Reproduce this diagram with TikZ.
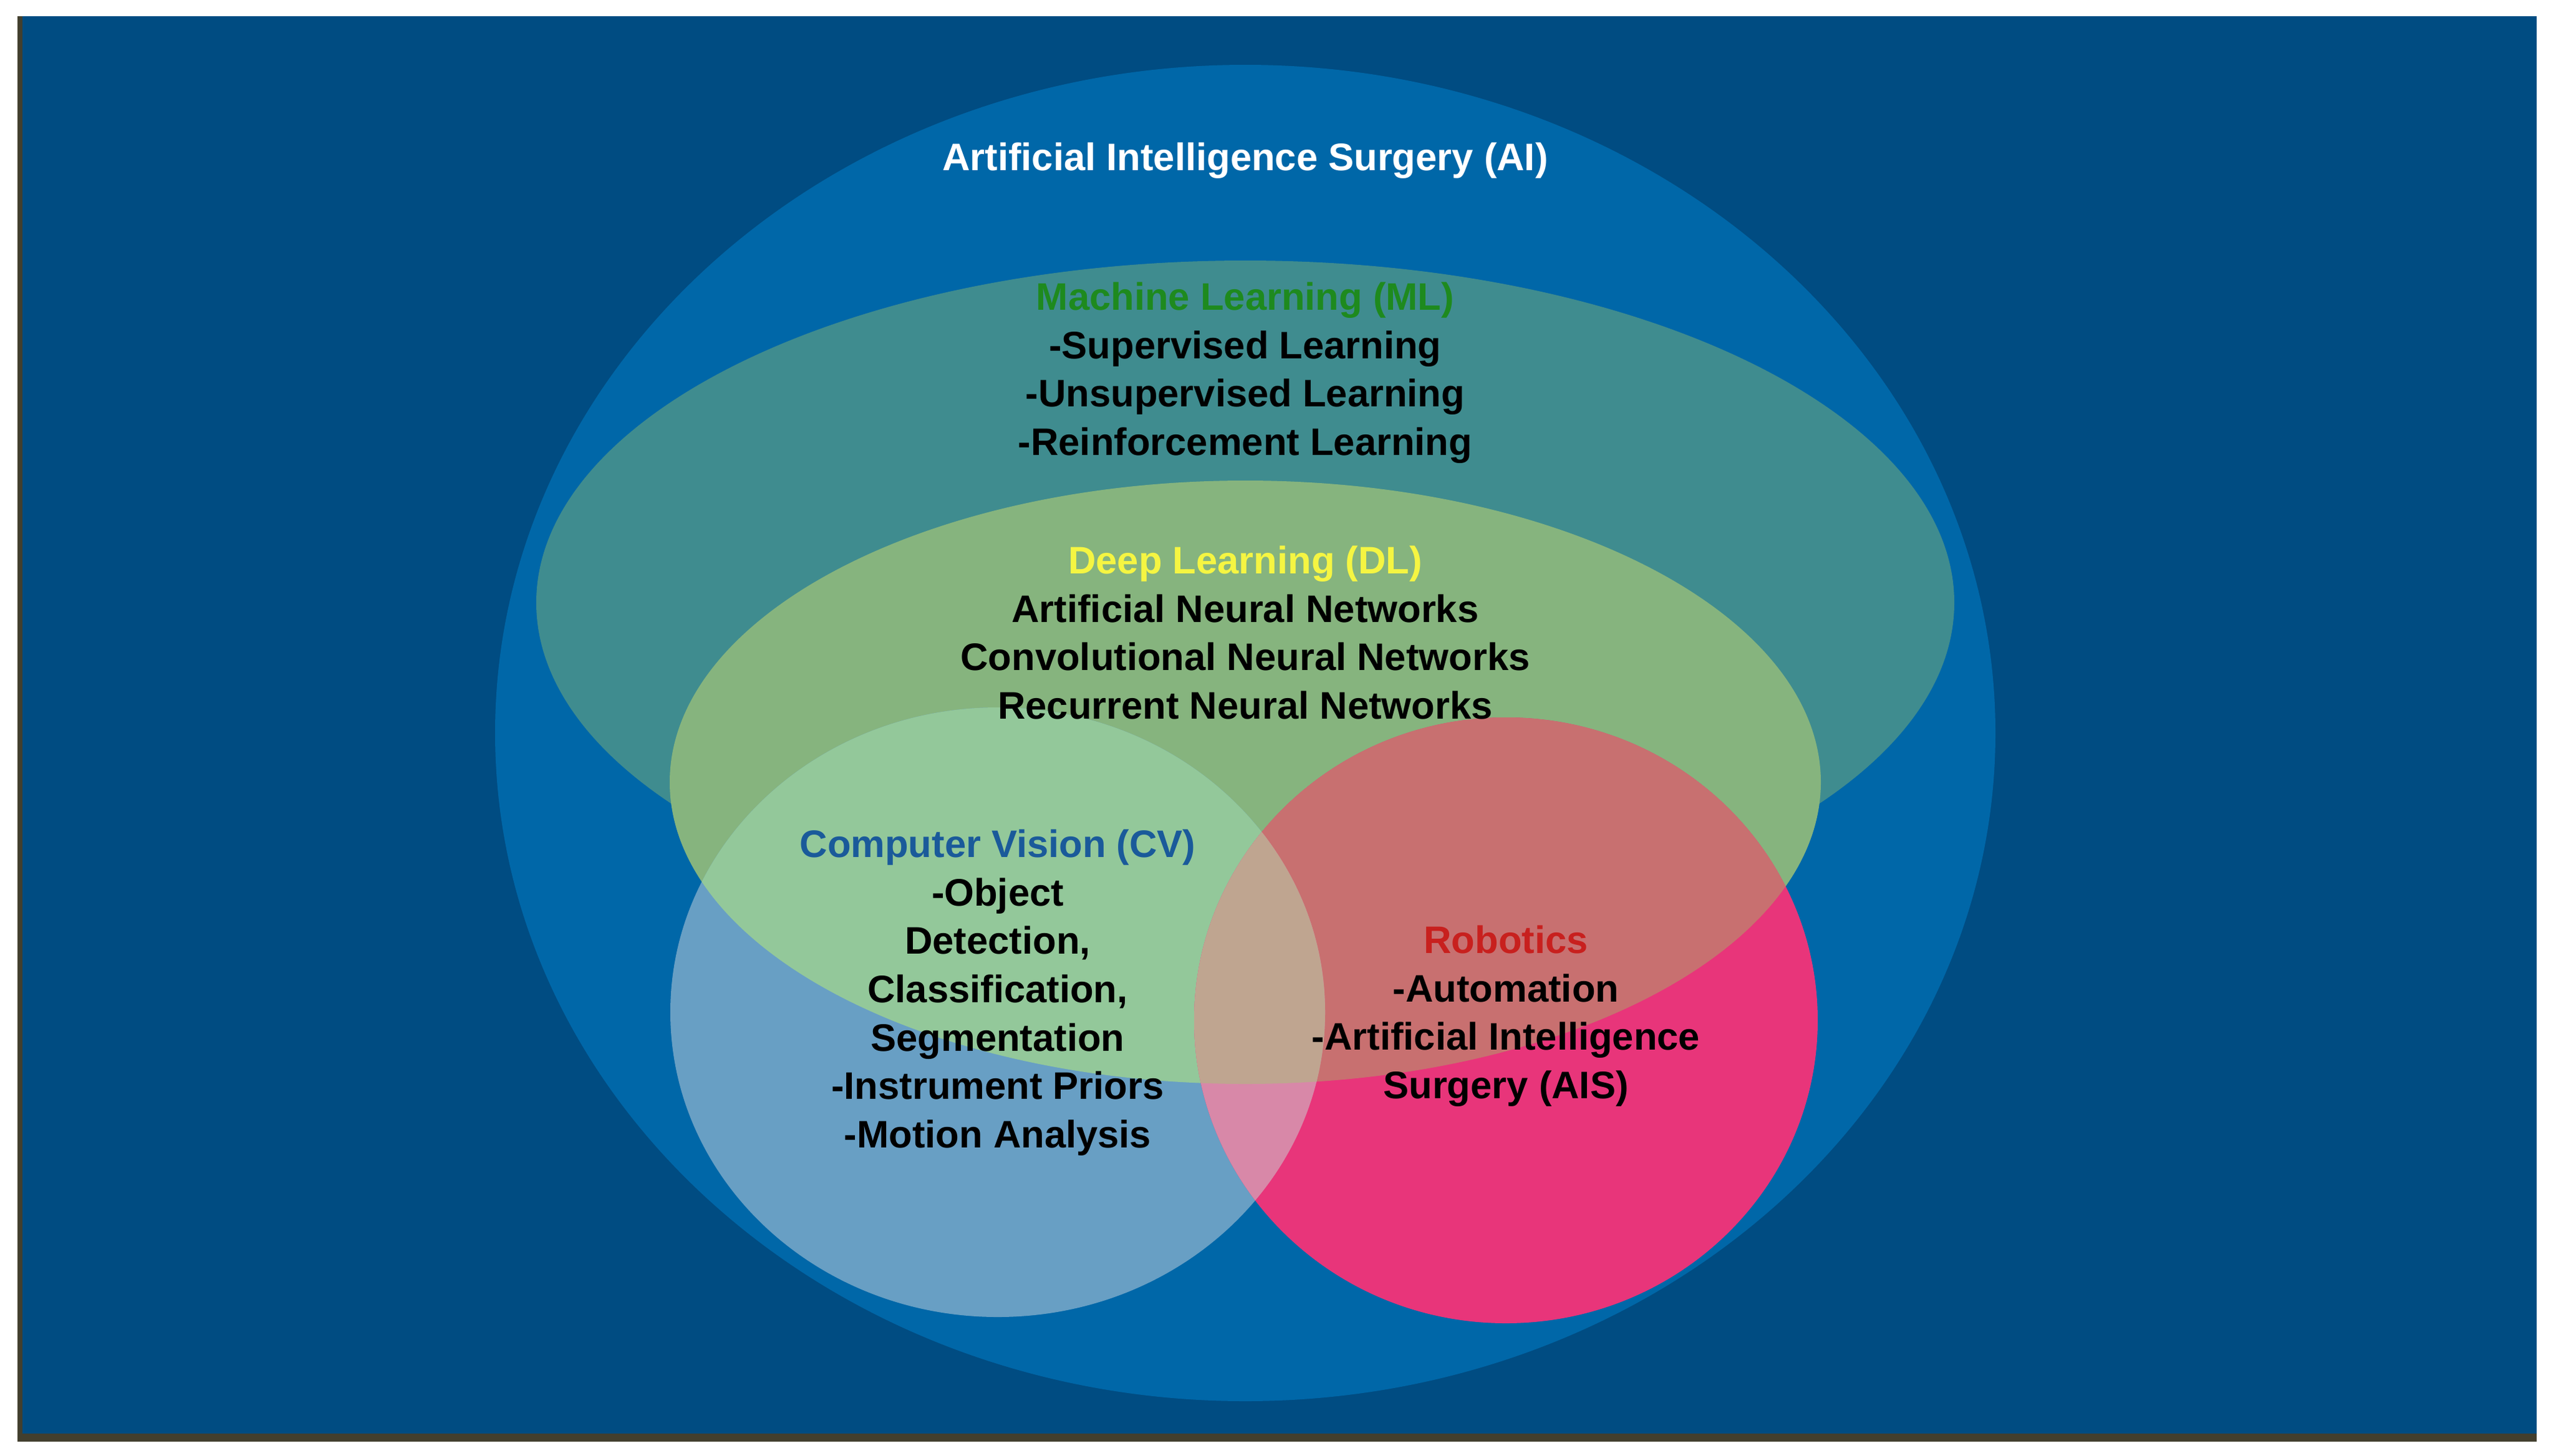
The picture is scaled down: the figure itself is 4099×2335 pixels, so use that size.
\documentclass[tikz,border=0pt]{standalone}
\usepackage{fontspec}
\setmainfont{Liberation Sans}
\begin{document}
\definecolor{bg}{HTML}{004C82}
\definecolor{ai}{HTML}{0067A8}
\definecolor{ml}{HTML}{3F8C8F}
\definecolor{dl}{HTML}{86B47E}
\definecolor{cv}{HTML}{689FC4}
\definecolor{cvdl}{HTML}{93C89A}
\definecolor{rob}{HTML}{E8357A}
\definecolor{robdl}{HTML}{C87070}
\definecolor{both}{HTML}{D888A8}
\definecolor{bothdl}{HTML}{BFA590}
\definecolor{mlt}{HTML}{1E8A1E}
\definecolor{dlt}{HTML}{F5F542}
\definecolor{cvt}{HTML}{1A5A9A}
\definecolor{robt}{HTML}{C8201E}
\begin{tikzpicture}[x=0.01cm,y=-0.01cm,
  txt/.style={font=\bfseries\fontsize{17.5}{22.1}\selectfont,align=center,inner sep=0pt}]
\useasboundingbox (0,0) rectangle (4099,2335);
\fill[white] (0,0) rectangle (4099,2335);
\fill[black!70!olive] (28,26) rectangle (4068,2313);
\fill[bg] (36,26) rectangle (4068,2300);
\def\DLpath{(1997,1255) ellipse [x radius=923, y radius=484]}
\def\CVpath{(1600,1624) ellipse [x radius=525, y radius=489]}
\def\ROBpath{(2415,1637) ellipse [x radius=500, y radius=486]}
\fill[ai] (1997,1176) ellipse [x radius=1203, y radius=1072];
\fill[ml] (1997,967) ellipse [x radius=1137, y radius=549];
\fill[dl] \DLpath;
\fill[cv] \CVpath;
\begin{scope}\clip \CVpath; \fill[cvdl] \DLpath; \end{scope}
\fill[rob] \ROBpath;
\begin{scope}\clip \ROBpath; \fill[robdl] \DLpath; \end{scope}
\begin{scope}\clip \CVpath; \fill[both] \ROBpath; \clip \ROBpath; \fill[bothdl] \DLpath; \end{scope}
\node[txt,text=white] (ai) at (1997,258) {Artificial Intelligence Surgery (AI)};
\node[txt,anchor=north] (ml) at (1997,452) {\textcolor{mlt}{Machine Learning (ML)}\\-Supervised Learning\\-Unsupervised Learning\\-Reinforcement Learning};
\node[txt,anchor=north] (dlb) at (1997,875) {\textcolor{dlt}{Deep Learning (DL)}\\Artificial Neural Networks\\Convolutional Neural Networks\\Recurrent Neural Networks};
\node[txt,anchor=north] (cvb) at (1600,1330) {\textcolor{cvt}{Computer Vision (CV)}\\-Object\\Detection,\\Classification,\\Segmentation\\-Instrument Priors\\-Motion Analysis};
\node[txt,anchor=north] (robb) at (2415,1484) {\textcolor{robt}{Robotics}\\-Automation\\-Artificial Intelligence\\Surgery (AIS)};
\end{tikzpicture}
\end{document}
